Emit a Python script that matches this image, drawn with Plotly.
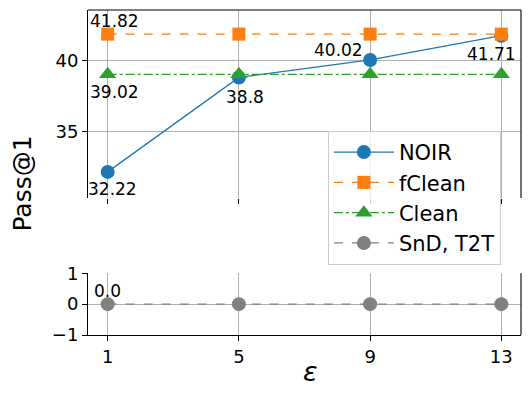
import plotly.graph_objects as go
from plotly.subplots import make_subplots

eps = [1, 5, 9, 13]
noir = [32.22, 38.8, 40.02, 41.71]
fclean = [41.82, 41.82, 41.82, 41.82]
clean = [39.02, 39.02, 39.02, 39.02]
snd_t2t = [0.0, 0.0, 0.0, 0.0]

FONT = "DejaVu Sans"
BLUE, ORANGE, GREEN, GRAY = "#1f77b4", "#ff7f0e", "#2ca02c", "#808080"

fig = make_subplots(rows=2, cols=1, shared_xaxes=False)

fig.add_trace(go.Scatter(x=eps, y=noir, name="NOIR", mode="lines+markers",
                         line=dict(color=BLUE, width=1.3),
                         marker=dict(symbol="circle", size=14, color=BLUE)), row=1, col=1)
fig.add_trace(go.Scatter(x=eps, y=fclean, name="fClean", mode="lines+markers",
                         line=dict(color=ORANGE, width=1.3, dash="dash"),
                         marker=dict(symbol="square", size=13, color=ORANGE)), row=1, col=1)
fig.add_trace(go.Scatter(x=eps, y=clean, name="Clean", mode="lines+markers",
                         line=dict(color=GREEN, width=1.3, dash="dashdot"),
                         marker=dict(symbol="triangle-up", size=15, color=GREEN)), row=1, col=1)
fig.add_trace(go.Scatter(x=eps, y=snd_t2t, name="SnD, T2T", mode="lines+markers",
                         line=dict(color=GRAY, width=1.3, dash="dash"),
                         marker=dict(symbol="circle", size=14, color=GRAY)), row=2, col=1)

# value labels (pixel offsets from the point)
labels = [
    (eps[0], noir[0], 5, -17, "y"), (eps[1], noir[1], 6, -20, "y"),
    (eps[2], noir[2], -32, 10, "y"), (eps[3], noir[3], -10, -18, "y"),
    (eps[0], fclean[0], 7, 13, "y"), (eps[0], clean[0], 7, -18, "y"),
    (eps[0], snd_t2t[0], 0, 13, "y2"),
]
for x, y, dx, dy, yr in labels:
    fig.add_annotation(x=x, y=y, xref="x" if yr == "y" else "x2", yref=yr,
                       text=str(y), showarrow=False, xshift=dx, yshift=dy,
                       font=dict(size=17, color="black", family=FONT))

grid = dict(showgrid=True, gridcolor="#b0b0b0", gridwidth=1.1, zeroline=False,
            automargin=False,
            ticks="outside", ticklen=5, tickwidth=1.1, tickcolor="black",
            tickfont=dict(size=18, color="black", family=FONT))

fig.update_xaxes(range=[0.4, 13.6], tickvals=eps, **grid)
fig.update_xaxes(showticklabels=False, showline=False, row=1, col=1)
fig.update_xaxes(showline=True, linecolor="black", linewidth=1.1, row=2, col=1)
fig.update_yaxes(range=[30.4, 43.5], tickvals=[35, 40], showline=True,
                 linecolor="black", linewidth=1.1, row=1, col=1, **grid)
fig.update_yaxes(range=[-1, 1], tickvals=[-1, 0, 1], showline=True,
                 linecolor="black", linewidth=1.1, row=2, col=1, **grid)

fig.update_layout(
    xaxis=dict(domain=[0, 1]), xaxis2=dict(domain=[0, 1]),
    yaxis=dict(domain=[0.4215, 1]), yaxis2=dict(domain=[0, 0.19]),
)

# remaining spines: top/right of top panel, right of bottom panel
fig.add_shape(type="line", xref="x domain", yref="y domain", x0=0, x1=1, y0=1, y1=1,
              line=dict(color="black", width=1.1))
fig.add_shape(type="line", xref="x domain", yref="y domain", x0=1, x1=1, y0=0, y1=1,
              line=dict(color="black", width=1.1))
fig.add_shape(type="line", xref="x2 domain", yref="y2 domain", x0=1, x1=1, y0=0, y1=1,
              line=dict(color="black", width=1.1))

# axis titles
fig.add_annotation(text="Pass@1", xref="paper", yref="paper", x=-0.15, y=0.466,
                   textangle=-90, showarrow=False, xanchor="center", yanchor="middle",
                   font=dict(size=25, color="black", family=FONT))
fig.add_annotation(text="<i>ε</i>", xref="paper", yref="paper", x=0.515, y=-0.111,
                   showarrow=False, xanchor="center", yanchor="middle",
                   font=dict(size=27, color="black", family=FONT))

# page body has an 8px margin, so the figure is 8px smaller and margins shifted
fig.update_layout(
    width=522, height=387,
    margin=dict(l=80, r=9, t=2, b=60, autoexpand=False),
    paper_bgcolor="white", plot_bgcolor="white",
    font=dict(family=FONT, color="black"),
    showlegend=True,
    legend=dict(x=0.554, y=0.628, xanchor="left", yanchor="top",
                bgcolor="rgba(255,255,255,0.8)", bordercolor="#cccccc", borderwidth=1,
                font=dict(size=21, family=FONT), itemwidth=60),
)

fig.write_html("out.html")
